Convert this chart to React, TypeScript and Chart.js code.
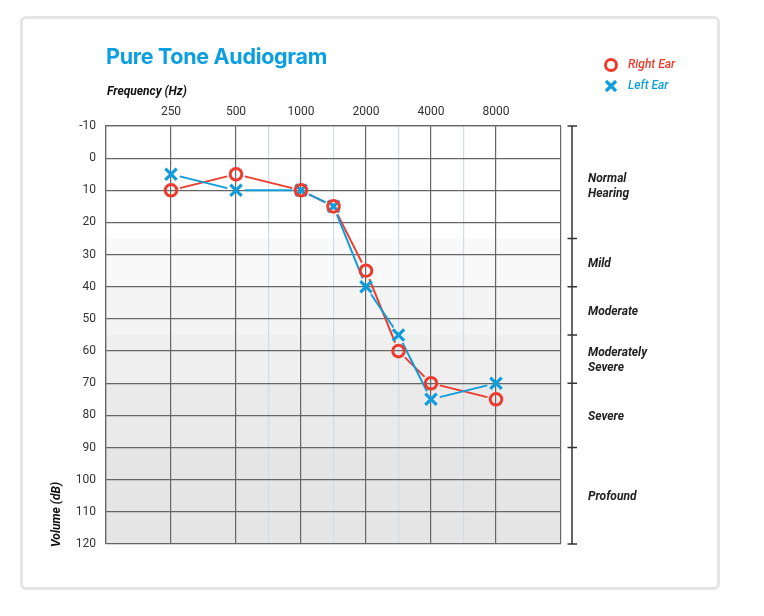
import { useEffect, useRef } from 'react';
import { Chart, registerables } from 'chart.js';

Chart.register(...registerables);

// half-octave steps from 125 Hz to 16 kHz, one category per step
const freqLabels = ['125', '177', '250', '354', '500', '750', '1000', '1500', '2000', '3000', '4000', '6000', '8000', '11314', '16000'];
const tickLabels = ['250', '500', '1000', '2000', '4000', '8000'];
const minorLines = ['750', '1500', '3000', '6000'];
const edgeLines = ['125', '16000'];

const testFreqs = ['250', '500', '1000', '1500', '2000', '3000', '4000', '8000'];
const rightEarDb = [10, 5, 10, 15, 35, 60, 70, 75];
const leftEarDb = [5, 10, 10, 15, 40, 55, 75, 70];

const bandEdges = [-10, 25, 40, 55, 70, 90, 120];
const bandLabels = [['Normal', 'Hearing'], ['Mild'], ['Moderate'], ['Moderately', 'Severe'], ['Severe'], ['Profound']];
const bandShades = ['#ffffff', '#f9f9f9', '#f4f4f4', '#efefef', '#eaeaea', '#e5e5e5'];

const RED = '#ef3b2d';
const BLUE = '#0e9edd';
const GRID = '#666';
const GAP = 9;

const bandBackground = {
  id: 'bandBackground',
  beforeDraw(chart: any) {
    const { ctx, chartArea } = chart;
    const y = chart.scales.y;
    ctx.save();
    for (let i = 0; i < bandShades.length; i++) {
      const top = y.getPixelForValue(bandEdges[i]);
      const bottom = y.getPixelForValue(bandEdges[i + 1]);
      ctx.fillStyle = bandShades[i];
      ctx.fillRect(chartArea.left, top, chartArea.right - chartArea.left, bottom - top);
    }
    ctx.restore();
  },
};

// joins the markers but stops short of each one, like a printed audiogram
const gapLines = {
  id: 'gapLines',
  beforeDatasetsDraw(chart: any) {
    const { ctx } = chart;
    chart.data.datasets.forEach((ds: any, i: number) => {
      const pts = chart.getDatasetMeta(i).data;
      ctx.save();
      ctx.strokeStyle = ds.borderColor;
      ctx.lineWidth = 2;
      ctx.lineCap = 'butt';
      for (let k = 1; k < pts.length; k++) {
        const a = pts[k - 1];
        const b = pts[k];
        const dx = b.x - a.x;
        const dy = b.y - a.y;
        const len = Math.hypot(dx, dy);
        if (len <= GAP * 2) continue;
        const ux = dx / len;
        const uy = dy / len;
        ctx.beginPath();
        ctx.moveTo(a.x + ux * GAP, a.y + uy * GAP);
        ctx.lineTo(b.x - ux * GAP, b.y - uy * GAP);
        ctx.stroke();
      }
      ctx.restore();
    });
  },
};

const hearingBracket = {
  id: 'hearingBracket',
  afterDraw(chart: any) {
    const { ctx, chartArea } = chart;
    const y = chart.scales.y;
    const x = chartArea.right + 11;
    ctx.save();
    ctx.strokeStyle = '#333';
    ctx.lineWidth = 1.5;
    ctx.beginPath();
    ctx.moveTo(x, y.getPixelForValue(bandEdges[0]));
    ctx.lineTo(x, y.getPixelForValue(bandEdges[bandEdges.length - 1]));
    bandEdges.forEach((v) => {
      const py = y.getPixelForValue(v);
      ctx.moveTo(x - 4.5, py);
      ctx.lineTo(x + 5, py);
    });
    ctx.stroke();

    ctx.fillStyle = '#222';
    ctx.font = 'italic bold 12px Roboto';
    ctx.textAlign = 'left';
    ctx.textBaseline = 'middle';
    bandLabels.forEach((lines, i) => {
      const mid = (y.getPixelForValue(bandEdges[i]) + y.getPixelForValue(bandEdges[i + 1])) / 2 + (i === 0 ? 4 : 1.5);
      const lh = 15;
      lines.forEach((t, j) => {
        ctx.fillText(t, x + 16, mid + (j - (lines.length - 1) / 2) * lh);
      });
    });

    // axis captions
    ctx.fillStyle = '#111';
    ctx.fillText('Frequency (Hz)', chartArea.left + 1, 84);
    ctx.translate(49, chartArea.bottom + 3);
    ctx.rotate(-Math.PI / 2);
    ctx.fillText('Volume (dB)', 0, 0);
    ctx.restore();
  },
};

function Audiogram() {
  const canvasRef = useRef<HTMLCanvasElement>(null);
  const chartRef = useRef<Chart | null>(null);

  useEffect(() => {
    if (!canvasRef.current) return;
    if (chartRef.current) chartRef.current.destroy();

    chartRef.current = new Chart(canvasRef.current, {
      type: 'line',
      data: {
        labels: freqLabels,
        datasets: [
          {
            label: 'Right Ear',
            data: testFreqs.map((f, i) => ({ x: f, y: rightEarDb[i] })),
            showLine: false,
            borderColor: RED,
            pointStyle: 'circle',
            pointRadius: 5.8,
            pointBorderWidth: 3,
            pointBorderColor: RED,
            pointBackgroundColor: 'rgba(0,0,0,0)',
          },
          {
            label: 'Left Ear',
            data: testFreqs.map((f, i) => ({ x: f, y: leftEarDb[i] })),
            showLine: false,
            borderColor: BLUE,
            pointStyle: 'crossRot',
            pointRadius: 8,
            pointBorderWidth: 3.2,
            pointBorderColor: BLUE,
          },
        ],
      },
      options: {
        animation: false,
        responsive: false,
        maintainAspectRatio: false,
        layout: { padding: { left: 0, top: 0, right: 195, bottom: 64 } },
        plugins: {
          legend: { display: false },
          tooltip: { enabled: false },
        },
        scales: {
          x: {
            type: 'category',
            position: 'top',
            offset: false,
            border: { display: true, color: GRID, width: 1.2 },
            grid: {
              drawTicks: false,
              lineWidth: 1.2,
              color: (ctx: any) => {
                const lab = freqLabels[ctx.index];
                if (tickLabels.includes(lab) || edgeLines.includes(lab)) return GRID;
                if (minorLines.includes(lab)) return '#d3dce4';
                return 'rgba(0,0,0,0)';
              },
            },
            ticks: {
              autoSkip: false,
              maxRotation: 0,
              padding: 7,
              color: '#333',
              font: { family: 'Roboto', size: 12 },
              callback: (_v: any, idx: number) => (tickLabels.includes(freqLabels[idx]) ? freqLabels[idx] : ''),
            },
            afterFit: (scale: any) => {
              scale.height = 118;
            },
          },
          y: {
            type: 'linear',
            reverse: true,
            min: -10,
            max: 120,
            border: { display: true, color: GRID, width: 1.2 },
            grid: { drawTicks: false, color: GRID, lineWidth: 1.2 },
            ticks: {
              stepSize: 10,
              padding: 10,
              color: '#333',
              font: { family: 'Roboto', size: 12 },
            },
            afterFit: (scale: any) => {
              scale.width = 98;
            },
          },
        },
      },
      plugins: [bandBackground, gapLines, hearingBracket],
    });

    return () => {
      chartRef.current?.destroy();
      chartRef.current = null;
    };
  }, []);

  return <canvas ref={canvasRef} width={748} height={600} style={{ position: 'absolute', left: 0, top: 0 }} />;
}

export default function App() {
  return (
    <div style={{ position: 'relative', width: 748, height: 600, fontFamily: 'Roboto, sans-serif' }}>
      <div
        style={{
          position: 'absolute',
          left: 12,
          top: 8,
          width: 694,
          height: 568,
          border: '3px solid #e5e5e5',
          borderRadius: 6,
          background: '#fff',
        }}
      />
      <Audiogram />
      <div
        style={{
          position: 'absolute',
          left: 98,
          top: 35,
          fontFamily: 'Inter, sans-serif',
          fontWeight: 700,
          fontSize: 21.5,
          lineHeight: '26px',
          letterSpacing: -0.3,
          color: '#0a9fe0',
        }}
      >
        Pure Tone Audiogram
      </div>
      <div style={{ position: 'absolute', left: 596, top: 46, fontSize: 12, fontStyle: 'italic', fontWeight: 500, lineHeight: '21px' }}>
        <div style={{ display: 'flex', alignItems: 'center', color: RED }}>
          <span
            style={{
              display: 'inline-block',
              width: 8,
              height: 8,
              border: `3px solid ${RED}`,
              borderRadius: '50%',
              marginRight: 10,
            }}
          />
          Right Ear
        </div>
        <div style={{ display: 'flex', alignItems: 'center', color: BLUE }}>
          <svg width={14} height={14} style={{ marginRight: 10 }}>
            <line x1={2} y1={2} x2={12} y2={12} stroke={BLUE} strokeWidth={3.2} />
            <line x1={12} y1={2} x2={2} y2={12} stroke={BLUE} strokeWidth={3.2} />
          </svg>
          Left Ear
        </div>
      </div>
    </div>
  );
}
